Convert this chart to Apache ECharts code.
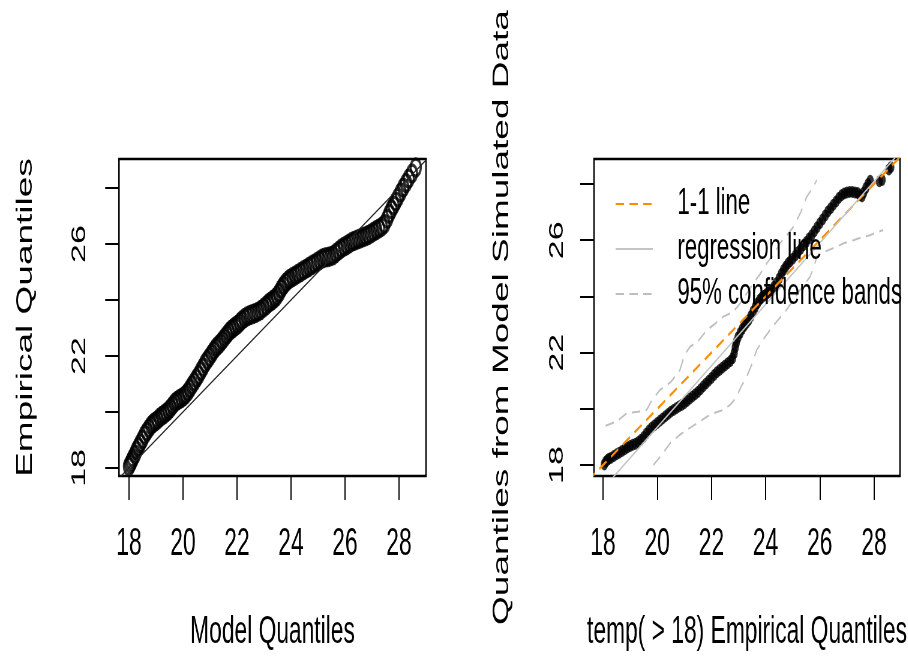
<!DOCTYPE html>
<html><head><meta charset="utf-8">
<script src="https://cdn.jsdelivr.net/npm/echarts@6/dist/echarts.min.js"></script>
<style>
html,body{margin:0;padding:0;background:#fff;overflow:hidden;}
#wrap{width:908px;height:657px;overflow:hidden;position:relative;background:#fff;}
#chart{width:1514px;height:657px;transform:scaleX(0.6);transform-origin:0 0;}
</style></head><body>
<div id="wrap"><div id="chart"></div></div>
<script>
// ---------- data ----------
const xTicks = [18, 20, 22, 24, 26, 28];
const xTickLabels = [18, 20, 22, 24, 26, 28];
const yTicks = [18, 20, 22, 24, 26, 28];
const yTickLabels = [18, 22, 26];

// left panel: Model Quantiles (x) vs Empirical Quantiles (y)
const modelQ = [18.00,18.05,18.10,18.15,18.22,18.28,18.35,18.42,18.50,18.58,18.66,18.74,18.82,18.90,18.98,
  19.06,19.14,19.22,19.30,19.38,19.46,19.54,19.62,19.70,19.78,19.86,19.94,20.02,
  20.10,20.18,20.26,20.34,20.42,20.50,20.58,20.66,20.74,20.82,20.90,20.98,
  21.06,21.14,21.22,21.30,21.38,21.46,21.54,21.62,21.70,21.78,21.86,21.94,
  22.02,22.10,22.18,22.28,22.38,22.48,22.58,22.68,22.78,22.88,22.98,
  23.08,23.16,23.24,23.32,23.40,23.48,23.56,23.64,23.72,23.80,23.88,23.96,
  24.06,24.16,24.26,24.36,24.46,24.56,24.66,24.76,24.86,24.96,
  25.06,25.16,25.26,25.36,25.46,25.56,25.66,25.76,25.86,25.96,
  26.06,26.16,26.26,26.36,26.46,26.56,26.66,26.76,26.86,26.96,
  27.06,27.16,27.26,27.36,27.46,27.56,27.64,27.72,27.80,27.88,27.96,28.06,28.16,28.26,28.36,28.48,28.62];
const empiricalQ = [18.05,18.15,18.25,18.35,18.48,18.62,18.75,18.88,19.02,19.18,19.30,19.42,19.52,19.60,19.66,
  19.72,19.80,19.86,19.92,19.98,20.05,20.14,20.24,20.34,20.40,20.45,20.50,20.55,
  20.62,20.72,20.84,20.96,21.08,21.20,21.32,21.46,21.60,21.74,21.86,21.96,
  22.08,22.20,22.30,22.38,22.46,22.56,22.66,22.76,22.86,22.94,23.00,23.06,
  23.12,23.20,23.28,23.36,23.42,23.46,23.50,23.54,23.58,23.64,23.72,
  23.80,23.88,23.94,24.00,24.06,24.14,24.26,24.40,24.52,24.62,24.70,24.76,
  24.82,24.88,24.94,25.00,25.06,25.12,25.18,25.24,25.30,25.36,
  25.42,25.48,25.52,25.54,25.56,25.60,25.68,25.76,25.84,25.90,
  25.96,26.02,26.08,26.12,26.16,26.20,26.24,26.28,26.32,26.38,
  26.44,26.50,26.56,26.62,26.72,26.90,27.08,27.24,27.38,27.52,27.66,27.84,28.02,28.18,28.34,28.52,28.74];
const leftLineX = [17.0, 30.0];
const leftLineY = [17.0, 30.0];

// right panel: temp(>18) Empirical Quantiles (x) vs Quantiles from Model Simulated Data (y)
const empX = [18.05,18.10,18.16,18.22,18.30,18.40,18.50,18.60,18.70,18.80,18.90,19.00,19.10,19.20,19.30,19.40,19.50,19.60,19.70,19.80,19.90,
  20.00,20.10,20.20,20.30,20.40,20.50,20.60,20.70,20.80,20.90,21.00,21.10,21.20,21.30,21.40,21.50,21.60,21.70,21.80,21.90,
  22.00,22.10,22.20,22.30,22.40,22.50,22.60,22.70,22.78,22.84,22.88,22.92,22.98,23.06,23.14,23.22,23.30,23.38,23.46,23.54,23.62,23.70,23.78,23.86,23.94,
  24.02,24.10,24.20,24.30,24.40,24.50,24.58,24.66,24.74,24.82,24.90,25.00,25.10,25.20,25.30,25.40,25.50,25.60,25.70,25.80,25.90,
  26.00,26.10,26.20,26.30,26.40,26.50,26.60,26.70,26.80,26.90,27.00,27.10,27.20,27.30,27.40,27.48,27.56,27.62,27.70,27.78,27.86,28.20,28.30,28.55,28.62];
const simY = [18.02,18.12,18.18,18.22,18.26,18.32,18.38,18.44,18.50,18.56,18.62,18.68,18.72,18.76,18.82,18.90,19.00,19.12,19.24,19.34,19.42,
  19.50,19.58,19.66,19.74,19.82,19.90,19.96,20.02,20.08,20.14,20.20,20.28,20.36,20.44,20.52,20.60,20.70,20.80,20.90,21.00,
  21.10,21.20,21.30,21.38,21.46,21.54,21.62,21.70,21.80,21.98,22.18,22.36,22.54,22.70,22.84,22.96,23.06,23.16,23.30,23.46,23.62,23.76,23.88,23.96,24.02,
  24.08,24.14,24.22,24.34,24.48,24.64,24.80,24.94,25.06,25.16,25.24,25.34,25.46,25.58,25.70,25.82,25.94,26.06,26.18,26.32,26.46,
  26.60,26.74,26.88,27.02,27.14,27.26,27.38,27.50,27.60,27.66,27.70,27.72,27.72,27.70,27.68,27.60,27.56,27.70,27.86,28.00,28.12,28.10,28.14,28.52,28.60];

const oneX = [17.0, 30.0];
const oneY = [17.0, 30.0];
const regX = [17.6, 29.0];
const regY = [16.72, 29.18];

const upperX = [18.10,18.50,18.87,19.30,19.61,19.80,20.10,20.50,20.84,21.00,21.21,21.50,21.83,22.10,22.44,22.80,23.06,23.30,23.55,23.80,24.04,24.30,24.53,24.80,25.03,25.30,25.52,25.70,25.89];
const upperY = [19.40,19.55,19.84,19.90,19.96,20.30,20.67,20.95,21.38,21.90,22.21,22.40,22.80,23.00,23.28,23.45,23.75,24.10,24.47,24.80,25.18,25.50,25.89,26.20,26.48,27.00,27.55,27.80,28.14];
const lowerX = [19.86,20.20,20.47,20.80,21.09,21.50,21.83,22.10,22.44,22.70,22.93,23.10,23.30,23.50,23.67,23.90,24.16,24.45,24.77,25.00,25.27,25.45,25.64,25.80,25.89,26.20,26.62,26.90,27.24,27.55,27.85,28.10,28.34];
const lowerY = [18.00,18.40,18.77,19.05,19.25,19.50,19.72,19.85,19.96,20.15,20.43,20.80,21.14,21.60,22.09,22.45,22.80,23.15,23.52,23.85,24.23,24.45,24.70,25.10,25.42,25.60,25.77,25.90,26.00,26.10,26.18,26.28,26.36];

const legendNames = ['1-1 line', 'regression line', '95% confidence bands'];

// ---------- chart ----------
const FONT = '"Liberation Sans", Arial, sans-serif';
const zip = (a, b) => a.map((v, i) => [v, b[i]]);

function xAxis(gridIndex, min, max, name, nameGap) {
  return {
    gridIndex, type: 'value', min, max, name, nameLocation: 'middle', nameGap,
    nameTextStyle: { fontSize: 38, fontFamily: FONT, color: '#000' },
    axisLine: { show: false }, splitLine: { show: false },
    axisTick: { show: true, customValues: xTicks, length: 24, lineStyle: { color: '#000', width: 2 } },
    axisLabel: { customValues: xTickLabels, margin: 50, fontSize: 38, fontFamily: FONT, color: '#000' }
  };
}
function yAxis(gridIndex, min, max, name, nameGap, labelMargin) {
  return {
    gridIndex, type: 'value', min, max, name, nameLocation: 'middle', nameGap,
    nameTextStyle: { fontSize: 37, fontFamily: FONT, color: '#000' },
    axisLine: { show: false }, splitLine: { show: false },
    axisTick: { show: true, customValues: yTicks, length: 23, lineStyle: { color: '#000', width: 2 } },
    axisLabel: { customValues: yTickLabels, rotate: 90, margin: labelMargin, fontSize: 34, fontFamily: FONT, color: '#000' }
  };
}

const chart = echarts.init(document.getElementById('chart'), null, { renderer: 'canvas' });
chart.setOption({
  animation: false,
  backgroundColor: '#fff',
  grid: [
    { left: 198.3, top: 159, width: 511.7, height: 317, show: true, borderColor: '#000', borderWidth: 2.5, backgroundColor: 'transparent', outerBoundsMode: 'none' },
    { left: 990, top: 159, width: 510, height: 317, show: true, borderColor: '#000', borderWidth: 2.5, backgroundColor: 'transparent', outerBoundsMode: 'none' }
  ],
  xAxis: [
    xAxis(0, 17.63, 29.0, 'Model Quantiles', 138),
    xAxis(1, 17.668, 28.96, 'temp( > 18) Empirical Quantiles', 138)
  ],
  yAxis: [
    yAxis(0, 17.71, 29.04, 'Empirical Quantiles', 137, 49),
    yAxis(1, 17.61, 28.89, 'Quantiles from Model Simulated Data', 135, 44)
  ],
  legend: {
    orient: 'vertical', left: 1025, top: 181.5, padding: 0, itemGap: 0,
    itemWidth: 62, itemHeight: 14, data: legendNames,
    itemStyle: { opacity: 0 },
    selectedMode: false,
    textStyle: { fontSize: 37, fontFamily: FONT, color: '#000', lineHeight: 45, padding: [0, 0, 0, 36] }
  },
  series: [
    { type: 'scatter', xAxisIndex: 0, yAxisIndex: 0, data: zip(modelQ, empiricalQ),
      symbol: 'circle', symbolSize: 17,
      itemStyle: { color: 'transparent', borderColor: '#000', borderWidth: 3.5 } },
    { type: 'line', xAxisIndex: 0, yAxisIndex: 0, data: zip(leftLineX, leftLineY),
      symbol: 'none', lineStyle: { color: '#222', width: 1.5 }, z: 3 },
    { type: 'scatter', xAxisIndex: 1, yAxisIndex: 1, data: zip(empX, simY),
      symbol: 'circle', symbolSize: 12, itemStyle: { color: '#000' } },
    { name: '1-1 line', type: 'line', xAxisIndex: 1, yAxisIndex: 1, data: zip(oneX, oneY),
      symbol: 'none', lineStyle: { color: '#FF8C00', width: 2.5, type: [14, 9] }, z: 3 },
    { name: 'regression line', type: 'line', xAxisIndex: 1, yAxisIndex: 1, data: zip(regX, regY),
      symbol: 'none', lineStyle: { color: '#C4C4C4', width: 1.8 }, z: 3 },
    { name: '95% confidence bands', type: 'line', xAxisIndex: 1, yAxisIndex: 1, data: zip(upperX, upperY),
      symbol: 'none', lineStyle: { color: '#BEBEBE', width: 2, type: [14, 9] }, z: 3 },
    { name: '95% confidence bands', type: 'line', xAxisIndex: 1, yAxisIndex: 1, data: zip(lowerX, lowerY),
      symbol: 'none', lineStyle: { color: '#BEBEBE', width: 2, type: [14, 9] }, z: 3 }
  ]
});
</script></body></html>
